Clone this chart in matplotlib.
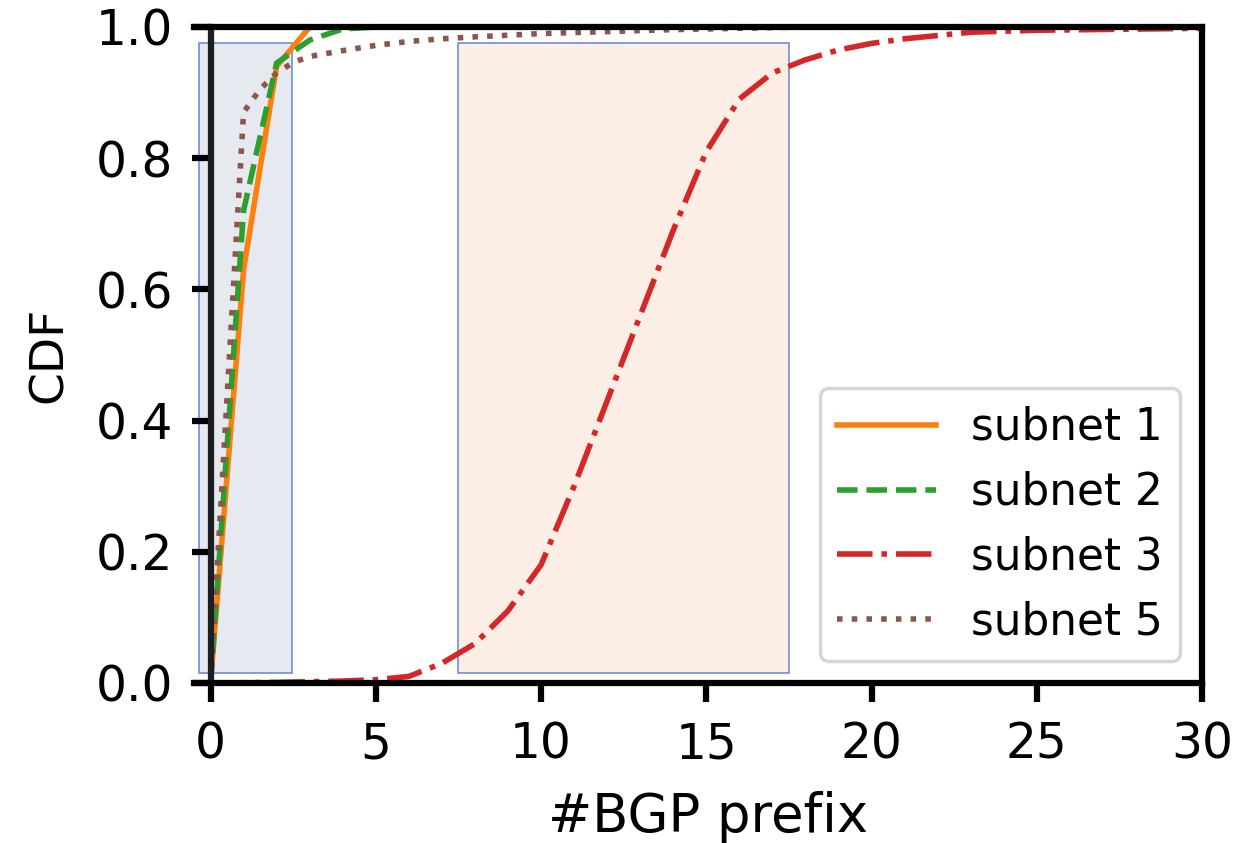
import matplotlib
matplotlib.use('Agg')
import matplotlib.pyplot as plt
from matplotlib.patches import Rectangle

# CDF values
x_sub1 = [0, 1, 2, 3, 30]
y_sub1 = [0.0, 0.63, 0.94, 1.0, 1.0]

x_sub2 = [0, 1, 2, 3, 4, 5, 30]
y_sub2 = [0.0, 0.72, 0.945, 0.98, 0.997, 1.0, 1.0]

x_sub3 = [0, 2, 4, 5, 6, 7, 8, 9, 10, 11, 12, 13, 14, 15, 16, 17, 18, 19, 20, 21, 22, 23, 25, 30]
y_sub3 = [0.0, 0.001, 0.003, 0.005, 0.01, 0.03, 0.06, 0.11, 0.18, 0.30, 0.43, 0.56, 0.69, 0.81,
          0.89, 0.93, 0.95, 0.965, 0.975, 0.982, 0.987, 0.992, 0.995, 0.998]

x_sub5 = [0, 1, 1.5, 2, 2.5, 3, 4, 5, 6, 7, 8, 10, 12, 14, 16, 18, 30]
y_sub5 = [0.0, 0.87, 0.905, 0.93, 0.946, 0.955, 0.964, 0.972, 0.978, 0.982, 0.985, 0.99,
          0.993, 0.996, 0.998, 1.0, 1.0]

labels = ['subnet 1', 'subnet 2', 'subnet 3', 'subnet 5']
colors = ['#ff7f0e', '#2ca02c', '#d62728', '#8c564b']
styles = ['-', '--', '-.', ':']

fig = plt.figure(figsize=(12.4, 8.43), dpi=100)
ax = fig.add_axes([194 / 1240, 1 - 683 / 843, 1008 / 1240, 656 / 843])

# highlighted regions
ax.add_patch(Rectangle((-0.36, 0.015), 2.84, 0.961, facecolor='#e6e9ef',
                       edgecolor='#6f8fd6', linewidth=1.2, zorder=1))
ax.add_patch(Rectangle((7.5, 0.015), 10.0, 0.961, facecolor='#fcede5',
                       edgecolor='#6f8fd6', linewidth=1.2, zorder=1))

series = [(x_sub1, y_sub1), (x_sub2, y_sub2), (x_sub3, y_sub3), (x_sub5, y_sub5)]
for (xs, ys), lab, c, ls in zip(series, labels, colors, styles):
    ax.plot(xs, ys, ls, color=c, lw=4, label=lab, zorder=3)

ax.set_xlim(-0.5, 30)
ax.set_ylim(0, 1)
ax.set_xticks([0, 5, 10, 15, 20, 25, 30])
ax.set_yticks([0.0, 0.2, 0.4, 0.6, 0.8, 1.0])

ax.spines['left'].set_position(('data', 0))
ax.spines['left'].set_color('#1c1e21')
for s in ax.spines.values():
    s.set_linewidth(4.5)
    s.set_zorder(4)

ax.tick_params(axis='both', labelsize=35, length=14, width=4.5, pad=13)

ax.set_xlabel('#BGP prefix', fontsize=38)
ax.xaxis.set_label_coords(0.51, -0.165)
ax.set_ylabel('CDF', fontsize=34)
ax.yaxis.set_label_coords(-0.121, 0.5)

leg = ax.legend(loc='lower right', fontsize=31.5, handlelength=2.25, handletextpad=0.8,
                labelspacing=0.5, borderaxespad=0.5)
leg.get_frame().set_linewidth(2.5)

plt.savefig('out.png', dpi=100)
